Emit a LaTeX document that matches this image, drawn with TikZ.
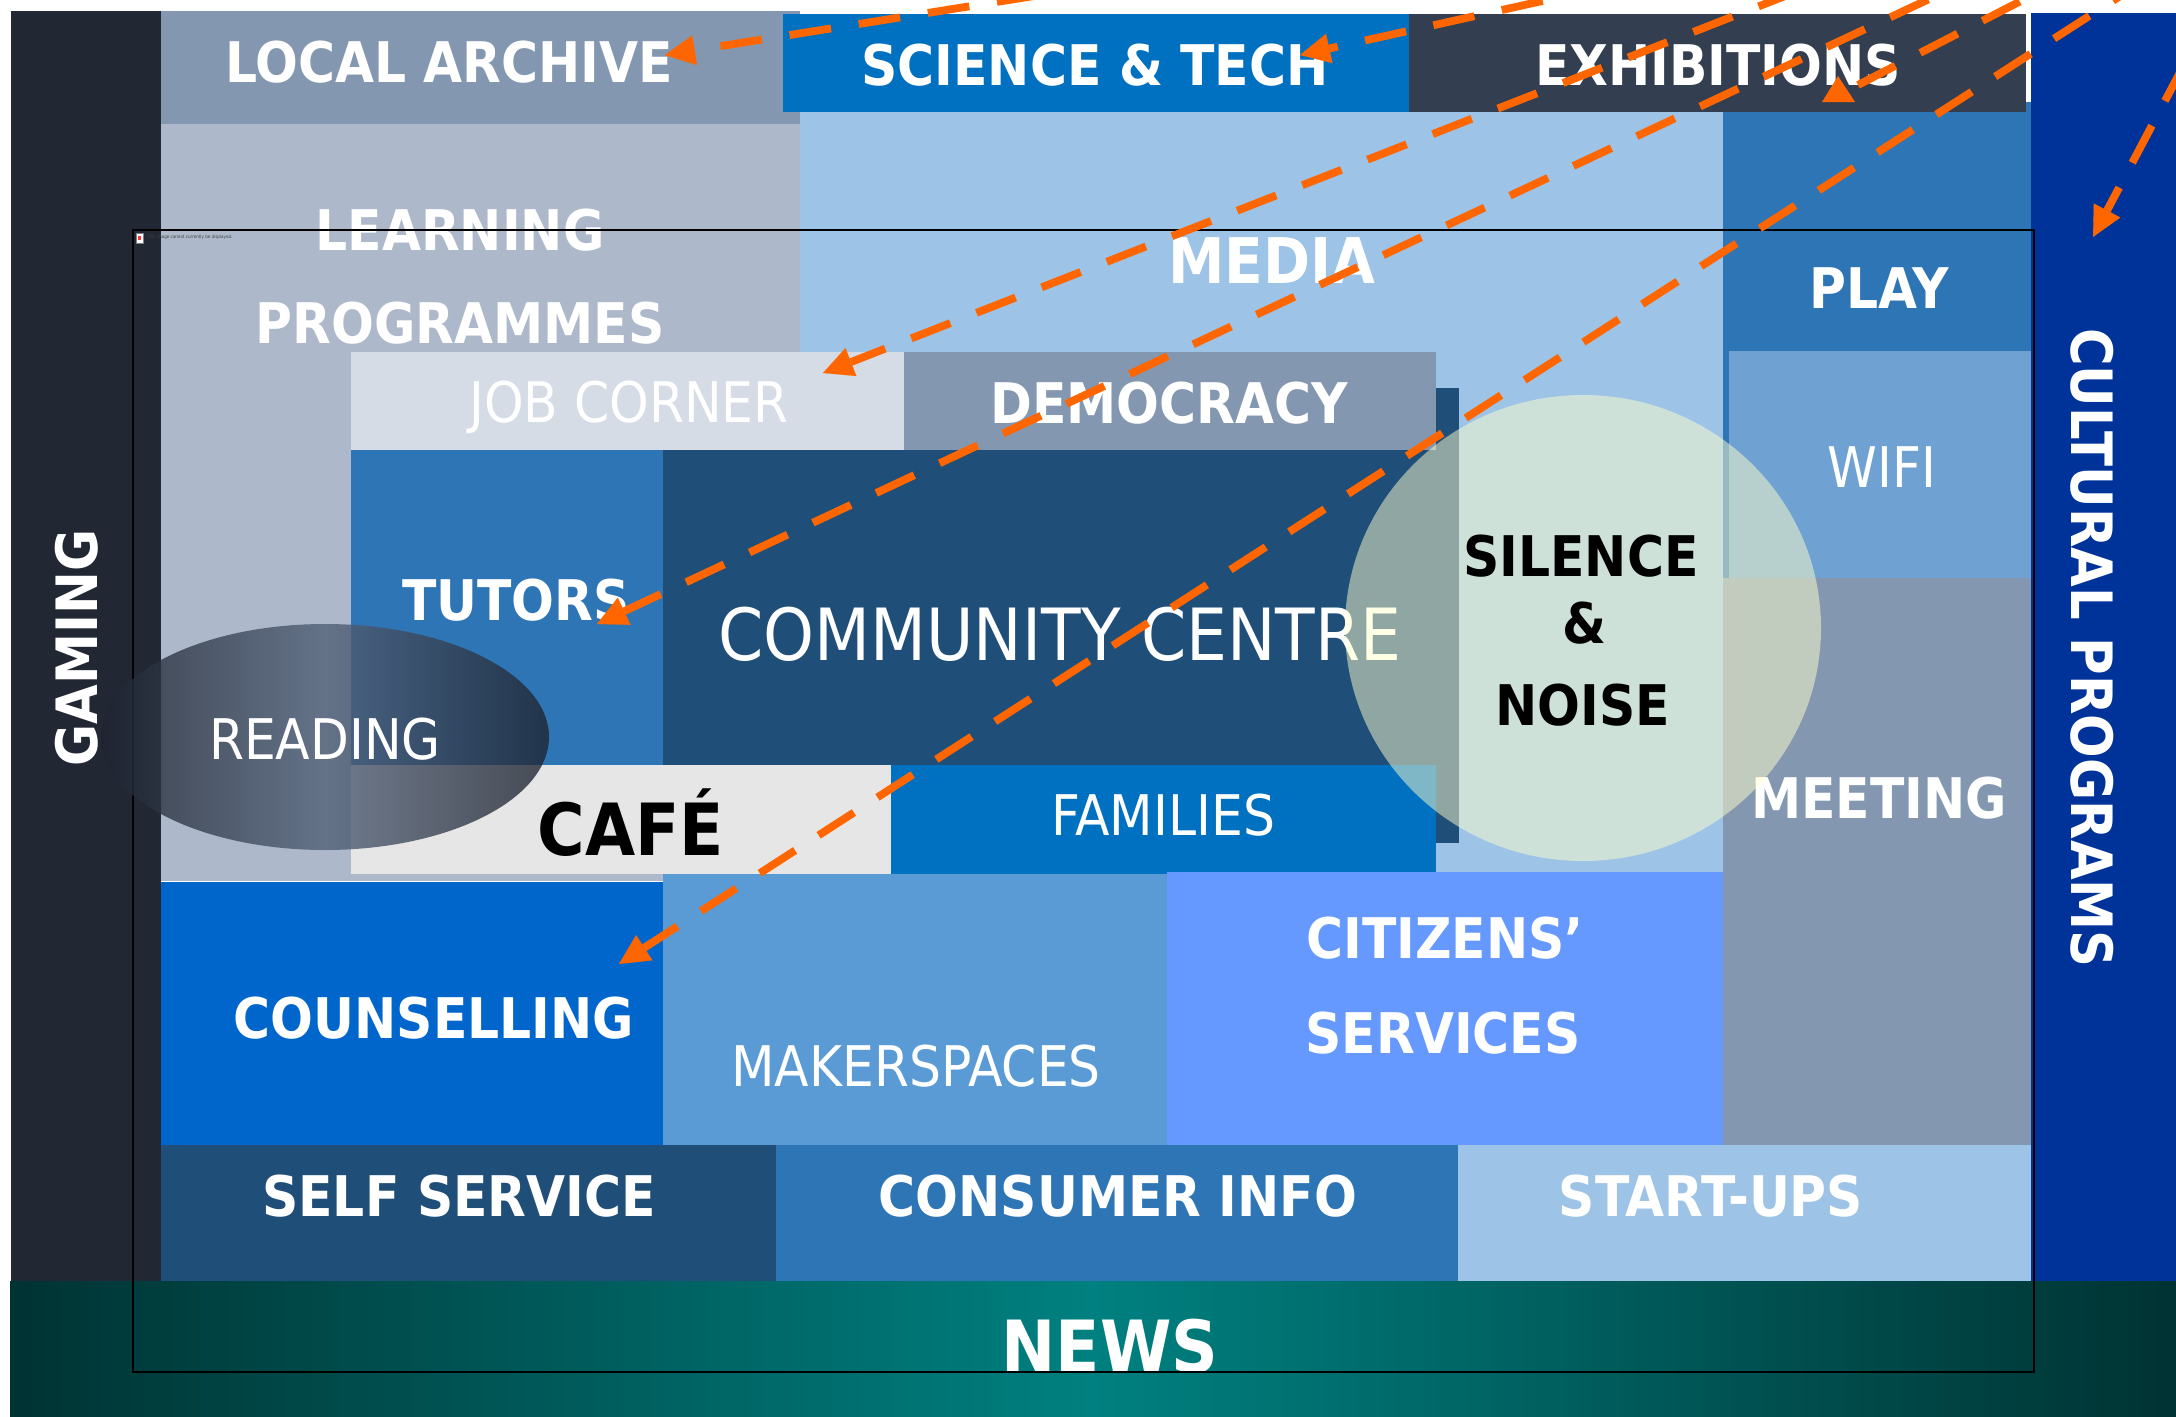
\documentclass[tikz,border=0pt]{standalone}
\usepackage{fontspec}
\newfontfamily\tah[FakeStretch=0.9]{DejaVu Sans}
\usetikzlibrary{arrows.meta}
\definecolor{gamingc}{HTML}{222833}
\definecolor{archivec}{HTML}{8497B0}
\definecolor{learnc}{HTML}{ADB9CA}
\definecolor{sciencec}{HTML}{0070C0}
\definecolor{exhibc}{HTML}{333F50}
\definecolor{mediac}{HTML}{9DC3E6}
\definecolor{playc}{HTML}{2E75B6}
\definecolor{wific}{HTML}{6FA2D2}
\definecolor{meetc}{HTML}{8497B0}
\definecolor{cultc}{HTML}{003399}
\definecolor{jobc}{HTML}{D6DCE5}
\definecolor{democc}{HTML}{8497B0}
\definecolor{tutorc}{HTML}{2E75B6}
\definecolor{commc}{HTML}{1F4E79}
\definecolor{cafec}{HTML}{E7E6E6}
\definecolor{famc}{HTML}{0070C0}
\definecolor{counsc}{HTML}{0066CC}
\definecolor{makerc}{HTML}{5B9BD5}
\definecolor{citizc}{HTML}{6699FF}
\definecolor{selfc}{HTML}{1F4E79}
\definecolor{consc}{HTML}{2E75B6}
\definecolor{startc}{HTML}{9DC3E6}
\definecolor{newsdark}{HTML}{003333}
\definecolor{newsmid}{HTML}{008080}
\definecolor{readedge}{HTML}{1E2430}
\definecolor{readmid}{HTML}{526178}
\definecolor{silencec}{HTML}{FFFFCC}
\definecolor{arroworange}{HTML}{FF6600}
\newcommand\myBold{\tah\bfseries\fontsize{56}{60}\selectfont}
\newcommand\myReg{\tah\fontsize{56}{60}\selectfont}
\begin{document}
\begin{tikzpicture}[x=1pt,y=-1pt,
  lbl/.style={text=white, inner sep=0pt, anchor=base},
  bl/.style={lbl, font=\myBold},
  rg/.style={lbl, font=\myReg},
  blk/.style={bl, text=black},
  flowline/.style={draw=arroworange, line width=7.8pt, dash pattern=on 42pt off 28pt},
  flow/.style={flowline, -{Triangle[length=30pt,width=30pt,line width=0.1pt]}}]
\useasboundingbox (0,0) rectangle (2176,1416);
\clip (0,0) rectangle (2176,1416);
\fill[white] (0,0) rectangle (2176,1416);
% side and bottom bars
\fill[gamingc] (11,11) rectangle (161,1281);
\fill[cultc] (2031,13) rectangle (2176,1281);
\shade[left color=newsdark, right color=newsdark, middle color=newsmid] (10,1281) rectangle (2176,1416);
% top rows
\fill[archivec] (161,11) rectangle (800,124);
\fill[learnc] (161,124) rectangle (800,881);
\fill[mediac] (800,111) rectangle (1723,874);
\fill[playc] (1723,102) rectangle (2031,351);
\fill[playc] (1723,351) rectangle (1729,578);
\fill[wific] (1729,351) rectangle (2031,578);
\fill[meetc] (1723,578) rectangle (2031,1145);
\fill[sciencec] (783,14) rectangle (1409,112);
\fill[exhibc] (1409,14) rectangle (2026,112);
% centre blocks
\fill[commc] (663,388) rectangle (1459,843);
\fill[jobc] (351,352) rectangle (904,450);
\fill[democc] (904,352) rectangle (1436,450);
\fill[tutorc] (351,450) rectangle (663,765);
\fill[cafec] (351,765) rectangle (891,874);
\fill[famc] (891,765) rectangle (1436,875);
% lower blocks
\fill[counsc] (161,882) rectangle (663,1145);
\fill[makerc] (663,874) rectangle (1167,1145);
\fill[citizc] (1167,872) rectangle (1723,1145);
\fill[selfc] (161,1145) rectangle (776,1281);
\fill[consc] (776,1145) rectangle (1458,1281);
\fill[startc] (1458,1145) rectangle (2031,1281);
% labels
\node[bl] (archive) at (449,82) {LOCAL ARCHIVE};
\node[bl] (science) at (1095,85) {SCIENCE \& TECH};
\node[bl] (exhib) at (1718,85) {EXHIBITIONS};
\node[bl] (learn1) at (460,250) {LEARNING};
\node[bl] (learn2) at (460,343) {PROGRAMMES};
\node[bl, font=\tah\bfseries\fontsize{63}{66}\selectfont] (media) at (1272,283) {MEDIA};
\node[bl] (play) at (1879,308) {PLAY};
\node[rg] (wifi) at (1882,487) {WIFI};
\node[rg] (job) at (629,422) {JOB CORNER};
\node[bl] (democ) at (1169,423) {DEMOCRACY};
\node[bl] (tutors) at (516,620) {TUTORS};
\node[rg, font=\tah\fontsize{72}{76}\selectfont] (comm) at (1060,660) {COMMUNITY CENTRE};
\node[blk, font=\tah\bfseries\fontsize{72}{76}\selectfont] (cafe) at (631,855) {CAFÉ};
\node[rg] (fam) at (1163,835) {FAMILIES};
\node[bl] (meet) at (1879,818) {MEETING};
\node[bl] (couns) at (434,1038) {COUNSELLING};
\node[rg] (maker) at (916,1086) {MAKERSPACES};
\node[bl] (citiz1) at (1445,958) {CITIZENS’};
\node[bl] (citiz2) at (1443,1053) {SERVICES};
\node[bl] (self) at (459,1216) {SELF SERVICE};
\node[bl] (cons) at (1118,1216) {CONSUMER INFO};
\node[bl] (start) at (1711,1216) {START-UPS};
\node[bl, font=\tah\bfseries\fontsize{72}{76}\selectfont] (news) at (1110,1372) {NEWS};
\node[bl, font=\tah\bfseries\fontsize{57}{60}\selectfont, rotate=90] (gaming) at (97,648) {GAMING};
\node[bl, font=\tah\bfseries\fontsize{57}{60}\selectfont, rotate=-90] (cult) at (2071,648) {CULTURAL PROGRAMS};
% picture placeholder frame
\draw[black, line width=1.5pt] (133,230) rectangle (2034,1372);
\fill[white, draw=gray, line width=0.5pt] (136,233) rectangle (143,243);
\fill[red!80] (138,236) rectangle (141,240);
\node[inner sep=0pt, anchor=west, text=black!75, font=\tah\fontsize{4.5}{5}\selectfont] (placeholder) at (147,237) {This image cannot currently be displayed.};
% ellipses
\shade[left color=readedge, right color=readedge, middle color=readmid, fill opacity=0.8] (325,737) ellipse [x radius=224, y radius=113];
\fill[silencec, fill opacity=0.5] (1583,628) ellipse [x radius=238, y radius=233];
\node[rg] (reading) at (325,759) {READING};
\node[blk] (sil1) at (1581,576) {SILENCE};
\node[blk] (sil2) at (1584,643) {\&};
\node[blk] (sil3) at (1583,725) {NOISE};
% connectors
\coordinate (tArch) at (665,55);  \coordinate (sArch) at (1384,-60);
\coordinate (tSci) at (1300,55);  \coordinate (sSci) at (1816,-60);
\coordinate (tJob) at (823,373);  \coordinate (sJob) at (1928,-60);
\coordinate (tTut) at (597,624);  \coordinate (sTut) at (2055,-60);
\coordinate (tCou) at (619,964);  \coordinate (sCou) at (2207,-60);
\coordinate (eExh) at (1858,85);  \coordinate (sExh) at (2139,-60);
\coordinate (tCul) at (2093,237); \coordinate (sCul) at (2250,-60);
\draw[flow] (sArch) -- (tArch);
\draw[flow] (sSci) -- (tSci);
\draw[flow] (sJob) -- (tJob);
\draw[flow] (sTut) -- (tTut);
\draw[flow] (sCou) -- (tCou);
\draw[flow] (sCul) -- (tCul);
\draw[flowline] (eExh) -- (sExh);
\fill[arroworange] (1838,76) -- (1855,102) -- (1822,102) -- cycle;
\end{tikzpicture}
\end{document}
